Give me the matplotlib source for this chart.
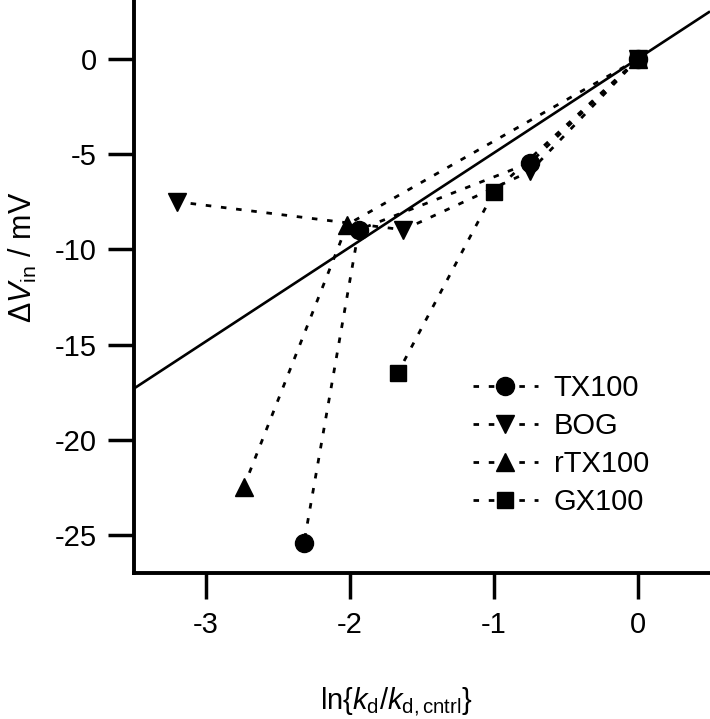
import matplotlib
matplotlib.use('Agg')
import matplotlib.pyplot as plt

plt.rcParams['font.family'] = ['Liberation Sans', 'DejaVu Sans']
plt.rcParams['mathtext.fontset'] = 'custom'
plt.rcParams['mathtext.rm'] = 'Liberation Sans'
plt.rcParams['mathtext.it'] = 'Liberation Sans:italic'
plt.rcParams['axes.unicode_minus'] = False

# data
tx100_x = [0, -0.75, -1.94, -2.32]
tx100_y = [0, -5.45, -8.97, -25.4]
bog_x = [0, -0.75, -1.63, -3.2]
bog_y = [0, -5.9, -8.97, -7.5]
rtx100_x = [0, -2.02, -2.74]
rtx100_y = [0, -8.7, -22.5]
gx100_x = [0, -1.0, -1.67]
gx100_y = [0, -6.97, -16.5]

# linear fit line
fit_x = [-3.5, 0.5]
fit_y = [-17.3, 2.5]

series = [
    ('TX100', tx100_x, tx100_y, 'o', 13),
    ('BOG', bog_x, bog_y, 'v', 13),
    ('rTX100', rtx100_x, rtx100_y, '^', 13),
    ('GX100', gx100_x, gx100_y, 's', 11.5),
]

fig = plt.figure(figsize=(7.1, 7.19), dpi=100)
ax = fig.add_axes([0.189, 0.203, 0.811, 0.797])

ax.plot(fit_x, fit_y, color='black', lw=1.9, solid_capstyle='butt')

for name, xs, ys, mk, ms in series:
    ax.plot(xs, ys, color='black', lw=2.0, linestyle=(0, (2, 3.5)),
            marker=mk, markersize=ms, label=name)

ax.set_xlim(-3.5, 0.5)
ax.set_ylim(-27, 3.1)
ax.set_xticks([-3, -2, -1, 0])
ax.set_yticks([0, -5, -10, -15, -20, -25])

ax.spines['top'].set_visible(False)
ax.spines['right'].set_visible(False)
ax.spines['left'].set_linewidth(2.8)
ax.spines['bottom'].set_linewidth(2.8)
ax.tick_params(direction='out', length=19, width=2.5, labelsize=21, pad=8)

ax.set_xlabel(r'ln{$\mathit{k}_\mathrm{d}$/$\mathit{k}_\mathrm{d,cntrl}$}', fontsize=21)
ax.xaxis.set_label_coords(0.455, -0.195)
ax.set_ylabel(r'$\mathit{\Delta V}_\mathrm{in}$ / mV', fontsize=22)
ax.yaxis.set_label_coords(-0.165, 0.55)

ax.legend(loc='upper left', bbox_to_anchor=(0.589, 0.347), frameon=False,
          fontsize=21, handlelength=2.2, handletextpad=0.55,
          labelspacing=0.34, borderpad=0, borderaxespad=0, numpoints=1)

fig.savefig('out.png', dpi=100)
